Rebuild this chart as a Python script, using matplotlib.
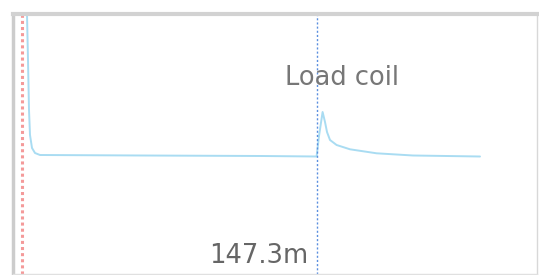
import matplotlib
matplotlib.use("Agg")
import matplotlib.pyplot as plt

# Trace data (distance in m, relative amplitude)
dist_m = [2.0, 2.5, 3.0, 3.5, 4.0, 5.0, 6.5, 9.0, 60.0, 120.0, 147.3,
          148.5, 150.3, 151.5, 152.5, 154.0, 157.3, 164.0, 177.3, 195.5, 229.0]
amplitude = [170, 142, 96, 46, 21, 8, 3, 1, 0.5, 0, -0.5,
             20, 44, 34, 24, 16, 11, 6.7, 2.7, 0.5, -0.5]

start_m = 0.0
event_m = 147.3
event_label = "Load coil"
marker_label = "147.3m"

W, H = 539, 275
fig = plt.figure(figsize=(W / 100, H / 100), dpi=100)
ax = fig.add_axes([13 / W, 1 / H, (537 - 13) / W, (274 - 14) / H])

ax.plot(dist_m, amplitude, color="#a9dcf2", lw=1.4, solid_capstyle="round")
ax.axvline(start_m, color="#f49a9a", lw=2.2, ls=(0, (1, 1)))
ax.axvline(event_m, color="#5b8fe0", lw=1.0, ls=(0, (1.5, 1.5)))

ax.text(event_m - 4.0, -107, marker_label, ha="right", va="baseline",
        fontsize=18.5, color="#666666", family="DejaVu Sans")
ax.text(event_m + 12.5, 71, event_label, ha="center", va="baseline",
        fontsize=18.5, color="#777777", family="DejaVu Sans")

ax.set_xlim(-4.5, 257.5)
ax.set_ylim(-118, 142)
ax.set_xticks([])
ax.set_yticks([])

ax.spines["left"].set_color("#cccccc")
ax.spines["left"].set_linewidth(2.5)
ax.spines["top"].set_color("#d2d2d2")
ax.spines["top"].set_linewidth(3.0)
ax.spines["right"].set_color("#d8d8d8")
ax.spines["right"].set_linewidth(1.0)
ax.spines["bottom"].set_color("#e0e0e0")
ax.spines["bottom"].set_linewidth(1.0)

fig.savefig("out.png", dpi=100, facecolor="white")
